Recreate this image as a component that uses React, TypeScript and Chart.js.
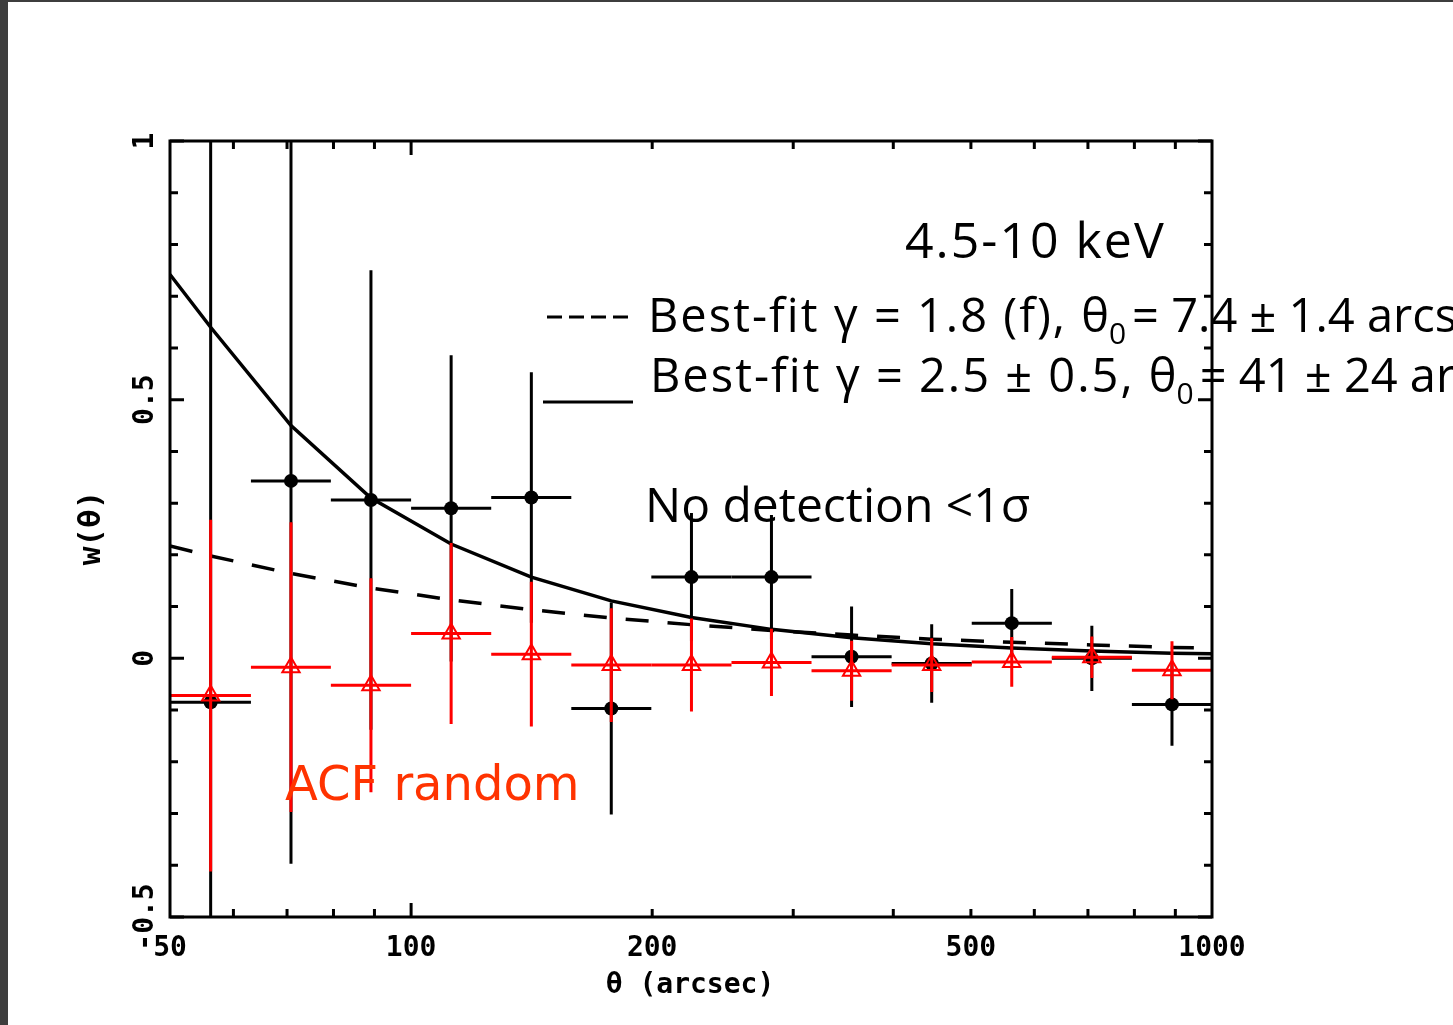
import React, { useEffect, useRef } from "react";
import { Chart, registerables } from "chart.js";

Chart.register(...registerables);

// ---- data ----
const thetaBins = [56.2, 70.8, 89.1, 112.2, 141.3, 177.8, 223.9, 281.8, 354.8, 446.7, 562.3, 707.9, 891.3];
const binLow = [50.1, 63.1, 79.4, 100, 125.9, 158.5, 199.5, 251.2, 316.2, 398.1, 501.2, 631.0, 794.3];
const binHigh = [63.1, 79.4, 100, 125.9, 158.5, 199.5, 251.2, 316.2, 398.1, 501.2, 631.0, 794.3, 1000];

const wData = [-0.085, 0.343, 0.306, 0.29, 0.311, -0.097, 0.157, 0.157, 0.003, -0.01, 0.068, 0.0, -0.089];
const wDataErr = [1.15, 0.74, 0.444, 0.296, 0.242, 0.205, 0.124, 0.12, 0.097, 0.076, 0.066, 0.063, 0.08];

const wRandom = [-0.072, -0.017, -0.052, 0.048, 0.008, -0.013, -0.013, -0.008, -0.024, -0.013, -0.007, 0.002, -0.023];
const wRandomErr = [0.34, 0.28, 0.207, 0.175, 0.14, 0.11, 0.09, 0.065, 0.058, 0.052, 0.048, 0.04, 0.056];

const curveTheta = [50, 56.2, 70.8, 89.1, 112.2, 141.3, 177.8, 223.9, 281.8, 354.8, 446.7, 562.3, 707.9, 891.3, 1000];
const fitSolid = [0.742, 0.64, 0.45, 0.31, 0.221, 0.157, 0.111, 0.079, 0.056, 0.04, 0.028, 0.02, 0.014, 0.01, 0.009];
const fitDashed = [0.217, 0.198, 0.164, 0.136, 0.113, 0.094, 0.078, 0.065, 0.054, 0.045, 0.037, 0.031, 0.026, 0.021, 0.02];

const xTickLabels = [50, 100, 200, 500, 1000];
const xMinorTicks = [60, 70, 80, 90, 200, 300, 400, 500, 600, 700, 800, 900];
const xMajorTicks = [100];
const yTickLabels = [-0.5, 0, 0.5, 1];
const yMinorTicks = [-0.4, -0.3, -0.2, -0.1, 0.1, 0.2, 0.3, 0.4, 0.6, 0.7, 0.8, 0.9];

const MONO = '"DejaVu Sans Mono", "Liberation Mono", monospace';
const SANS = '"Open Sans", "DejaVu Sans", sans-serif';

const errorBarPlugin = {
  id: "errorBars",
  beforeDatasetDraw(chart: any, args: any) {
    const ds: any = chart.data.datasets[args.index];
    if (!ds.errY) return;
    const { ctx, chartArea } = chart;
    const xs = chart.scales.x;
    const ys = chart.scales.y;
    ctx.save();
    ctx.beginPath();
    ctx.rect(chartArea.left, chartArea.top, chartArea.right - chartArea.left, chartArea.bottom - chartArea.top);
    ctx.clip();
    ctx.strokeStyle = ds.barColor;
    ctx.lineWidth = 3;
    ds.data.forEach((p: any, i: number) => {
      const px = xs.getPixelForValue(p.x);
      const py = ys.getPixelForValue(p.y);
      ctx.beginPath();
      ctx.moveTo(xs.getPixelForValue(ds.xLo[i]), py);
      ctx.lineTo(xs.getPixelForValue(ds.xHi[i]), py);
      ctx.moveTo(px, ys.getPixelForValue(p.y + ds.errY[i]));
      ctx.lineTo(px, ys.getPixelForValue(p.y - ds.errY[i]));
      ctx.stroke();
    });
    ctx.restore();
  },
};

const framePlugin = {
  id: "frame",
  afterDatasetsDraw(chart: any) {
    const { ctx, chartArea } = chart;
    const { left, right, top, bottom } = chartArea;
    const xs = chart.scales.x;
    const ys = chart.scales.y;
    ctx.save();
    ctx.strokeStyle = "#000";
    ctx.lineWidth = 3;
    ctx.strokeRect(left, top, right - left, bottom - top);
    const tick = (vals: number[], len: number, axis: "x" | "y") => {
      ctx.beginPath();
      vals.forEach((v) => {
        if (axis === "x") {
          const px = xs.getPixelForValue(v);
          ctx.moveTo(px, bottom);
          ctx.lineTo(px, bottom - len);
          ctx.moveTo(px, top);
          ctx.lineTo(px, top + len);
        } else {
          const py = ys.getPixelForValue(v);
          ctx.moveTo(left, py);
          ctx.lineTo(left + len, py);
          ctx.moveTo(right, py);
          ctx.lineTo(right - len, py);
        }
      });
      ctx.stroke();
    };
    tick(xMinorTicks, 8, "x");
    tick(xMajorTicks, 14, "x");
    tick(yMinorTicks, 8, "y");
    tick(yTickLabels, 14, "y");

    // tick labels
    ctx.fillStyle = "#000";
    ctx.font = `bold 28px ${MONO}`;
    ctx.textAlign = "center";
    ctx.textBaseline = "alphabetic";
    xTickLabels.forEach((v) => {
      ctx.fillText(String(v), xs.getPixelForValue(v), bottom + 39);
    });
    yTickLabels.forEach((v) => {
      ctx.save();
      ctx.translate(left - 17, ys.getPixelForValue(v));
      ctx.rotate(-Math.PI / 2);
      ctx.fillText(String(v), 0, 0);
      ctx.restore();
    });
    // axis titles
    ctx.font = `bold 28px ${MONO}`;
    ctx.fillText("\u03b8 (arcsec)", (left + right) / 2 - 1, bottom + 76);
    ctx.save();
    ctx.translate(left - 70, (top + bottom) / 2 - 1);
    ctx.rotate(-Math.PI / 2);
    ctx.font = `bold 31px ${MONO}`;
    ctx.fillText("w(\u03b8)", 0, 0);
    ctx.restore();
    ctx.restore();
  },
  afterDraw(chart: any) {
    const { ctx } = chart;
    ctx.save();
    ctx.fillStyle = "#000";
    ctx.textAlign = "left";
    ctx.textBaseline = "alphabetic";
    ctx.letterSpacing = "2px";
    ctx.font = `50px ${SANS}`;
    ctx.fillText("4.5-10 keV", 897, 256);

    const drawFitLine = (x: number, y: number, a: string, b: string) => {
      ctx.letterSpacing = "2px";
      ctx.font = `47px ${SANS}`;
      ctx.fillText(a, x, y);
      let w = ctx.measureText(a).width;
      ctx.letterSpacing = "0px";
      ctx.font = `30px ${SANS}`;
      ctx.fillText("0", x + w - 2, y + 12);
      w += ctx.measureText("0").width + 4;
      ctx.letterSpacing = "0px";
      ctx.font = `47px ${SANS}`;
      ctx.fillText(b, x + w, y);
    };
    drawFitLine(640, 330, "Best-fit \u03b3 = 1.8 (f), \u03b8", "= 7.4 \u00b1 1.4 arcsec");
    drawFitLine(642, 390, "Best-fit \u03b3 = 2.5 \u00b1 0.5, \u03b8", "= 41 \u00b1 24 arcsec");

    // legend line samples
    ctx.letterSpacing = "0px";
    ctx.strokeStyle = "#000";
    ctx.lineWidth = 3;
    ctx.setLineDash([15, 7]);
    ctx.beginPath();
    ctx.moveTo(539, 315);
    ctx.lineTo(620, 315);
    ctx.stroke();
    ctx.setLineDash([]);
    ctx.beginPath();
    ctx.moveTo(535, 400);
    ctx.lineTo(625, 400);
    ctx.stroke();

    ctx.font = `48px ${SANS}`;
    ctx.fillText("No detection <1\u03c3", 637, 520);

    ctx.fillStyle = "#ff3300";
    ctx.font = `48px "DejaVu Sans", sans-serif`;
    ctx.fillText("ACF random", 277, 798);
    ctx.restore();
  },
};

export default function App() {
  const ref = useRef<HTMLCanvasElement | null>(null);
  useEffect(() => {
    if (!ref.current) return;
    const chart = new Chart(ref.current, {
      type: "scatter",
      data: {
        datasets: [
          {
            label: "ACF random",
            data: thetaBins.map((t, i) => ({ x: t, y: wRandom[i] })),
            errY: wRandomErr,
            xLo: binLow,
            xHi: binHigh,
            barColor: "#ff0000",
            pointStyle: "triangle",
            pointRadius: 10,
            pointBorderWidth: 2,
            pointBorderColor: "#ff0000",
            pointBackgroundColor: "rgba(0,0,0,0)",
            order: 0,
          } as any,
          {
            label: "w(theta)",
            data: thetaBins.map((t, i) => ({ x: t, y: wData[i] })),
            errY: wDataErr,
            xLo: binLow,
            xHi: binHigh,
            barColor: "#000000",
            pointStyle: "circle",
            pointRadius: 7,
            pointBorderWidth: 0,
            pointBackgroundColor: "#000000",
            order: 1,
          } as any,
          {
            label: "fit gamma 2.5",
            data: curveTheta.map((t, i) => ({ x: t, y: fitSolid[i] })),
            showLine: true,
            borderColor: "#000",
            borderWidth: 3.5,
            pointRadius: 0,
            order: 2,
          },
          {
            label: "fit gamma 1.8",
            data: curveTheta.map((t, i) => ({ x: t, y: fitDashed[i] })),
            showLine: true,
            borderColor: "#000",
            borderWidth: 3.5,
            borderDash: [23, 19],
            pointRadius: 0,
            order: 3,
          },
        ],
      },
      options: {
        animation: false,
        responsive: false,
        devicePixelRatio: 1,
        layout: { padding: { left: 162, top: 139, right: 241, bottom: 108 } },
        plugins: { legend: { display: false }, tooltip: { enabled: false } },
        scales: {
          x: { type: "logarithmic", min: 50, max: 1000, display: false },
          y: { type: "linear", min: -0.5, max: 1, display: false },
        },
      },
      plugins: [errorBarPlugin, framePlugin],
    });
    return () => chart.destroy();
  }, []);

  return (
    <div style={{ position: "fixed", left: 0, top: 0, width: 1453, height: 1025, background: "#3e3e3e", overflow: "hidden" }}>
      <canvas
        ref={ref}
        width={1445}
        height={1023}
        style={{ position: "absolute", left: 8, top: 2, width: 1445, height: 1023, background: "#ffffff" }}
      />
    </div>
  );
}
